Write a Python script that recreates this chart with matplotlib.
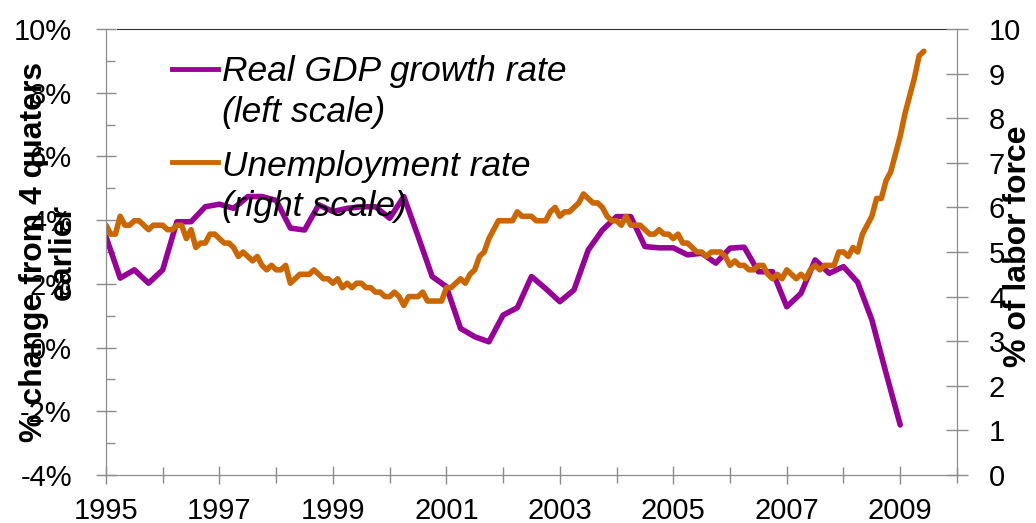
import numpy as np
import matplotlib
matplotlib.use("Agg")
import matplotlib.pyplot as plt
from matplotlib.ticker import FixedLocator, FuncFormatter

# colours and fonts
g_purple = "#990099"
g_orange = "#CC6600"
g_gray = "#8C8C8C"
plt.rcParams['font.family'] = ['Liberation Sans', 'DejaVu Sans']

# real GDP growth, % change from 4 quarters earlier, 1995Q1 .. 2009Q1
gdp_start = 1995.0
gdp_growth = [3.48, 2.18, 2.44, 2.02, 2.44, 3.95, 3.95, 4.42,
              4.50, 4.37, 4.74, 4.74, 4.62, 3.75, 3.69, 4.48,
              4.27, 4.37, 4.42, 4.42, 4.06, 4.74, 3.50, 2.23,
              1.91, 0.60, 0.34, 0.18, 1.02, 1.25, 2.23, 1.85,
              1.44, 1.81, 3.06, 3.69, 4.11, 4.11, 3.17, 3.13,
              3.13, 2.91, 2.96, 2.65, 3.12, 3.15, 2.38, 2.38,
              1.28, 1.70, 2.75, 2.33, 2.54, 2.05, 0.87, -0.80,
              -2.43]

# unemployment rate, % of labor force, monthly Jan 1995 .. Jun 2009
unemp_start = 1995.0
unemployment = [
    5.6, 5.4, 5.4, 5.8, 5.6, 5.6, 5.7, 5.7, 5.6, 5.5, 5.6, 5.6,   # 1995
    5.6, 5.5, 5.5, 5.6, 5.6, 5.3, 5.5, 5.1, 5.2, 5.2, 5.4, 5.4,   # 1996
    5.3, 5.2, 5.2, 5.1, 4.9, 5.0, 4.9, 4.8, 4.9, 4.7, 4.6, 4.7,   # 1997
    4.6, 4.6, 4.7, 4.3, 4.4, 4.5, 4.5, 4.5, 4.6, 4.5, 4.4, 4.4,   # 1998
    4.3, 4.4, 4.2, 4.3, 4.2, 4.3, 4.3, 4.2, 4.2, 4.1, 4.1, 4.0,   # 1999
    4.0, 4.1, 4.0, 3.8, 4.0, 4.0, 4.0, 4.1, 3.9, 3.9, 3.9, 3.9,   # 2000
    4.2, 4.2, 4.3, 4.4, 4.3, 4.5, 4.6, 4.9, 5.0, 5.3, 5.5, 5.7,   # 2001
    5.7, 5.7, 5.7, 5.9, 5.8, 5.8, 5.8, 5.7, 5.7, 5.7, 5.9, 6.0,   # 2002
    5.8, 5.9, 5.9, 6.0, 6.1, 6.3, 6.2, 6.1, 6.1, 6.0, 5.8, 5.7,   # 2003
    5.7, 5.6, 5.8, 5.6, 5.6, 5.6, 5.5, 5.4, 5.4, 5.5, 5.4, 5.4,   # 2004
    5.3, 5.4, 5.2, 5.2, 5.1, 5.0, 5.0, 4.9, 5.0, 5.0, 5.0, 4.9,   # 2005
    4.7, 4.8, 4.7, 4.7, 4.6, 4.6, 4.7, 4.7, 4.5, 4.4, 4.5, 4.4,   # 2006
    4.6, 4.5, 4.4, 4.5, 4.4, 4.6, 4.7, 4.6, 4.7, 4.7, 4.7, 5.0,   # 2007
    5.0, 4.9, 5.1, 5.0, 5.4, 5.6, 5.8, 6.2, 6.2, 6.6, 6.8, 7.2,   # 2008
    7.6, 8.1, 8.5, 8.9, 9.4, 9.5]                                 # 2009

year_labels = [1995, 1997, 1999, 2001, 2003, 2005, 2007, 2009]
left_ticks = [-4, -2, 0, 2, 4, 6, 8, 10]
right_ticks = list(range(0, 11))

legend_gdp = "Real GDP growth rate\n(left scale)"
legend_unemp = "Unemployment rate\n(right scale)"
left_label = "% change from 4 quaters\nearlier"
right_label = "% of labor force"


def style_axes(ax, ax2):
    for s in ["left", "bottom", "right"]:
        ax.spines[s].set_color(g_gray)
        ax2.spines[s].set_color(g_gray)
    ax.spines["top"].set_color("#333333")
    ax2.spines["top"].set_visible(False)
    ax.spines["top"].set_bounds(1995.2, 2009.8)

    ax.set_xlim(1995, 2010)
    ax.set_ylim(-4, 10)
    ax2.set_ylim(0, 10)

    ax.xaxis.set_major_locator(FixedLocator(year_labels))
    ax.xaxis.set_minor_locator(FixedLocator([y + 1 for y in year_labels]))
    ax.tick_params(axis="x", which="major", direction="inout", length=13,
                   width=1, color=g_gray, labelsize=21, pad=9)
    ax.tick_params(axis="x", which="minor", direction="inout", length=11,
                   width=1, color=g_gray)

    ax.yaxis.set_major_locator(FixedLocator(left_ticks))
    ax.yaxis.set_minor_locator(FixedLocator([t + 1 for t in left_ticks[:-1]]))
    ax.yaxis.set_major_formatter(FuncFormatter(lambda v, p: "%d%%" % v))
    ax.tick_params(axis="y", which="major", direction="inout", length=15,
                   width=1, color=g_gray, labelsize=21, pad=17)
    ax.tick_params(axis="y", which="minor", direction="in", length=6.5,
                   width=1, color=g_gray)

    ax2.yaxis.set_major_locator(FixedLocator(right_ticks))
    ax2.tick_params(axis="y", which="major", direction="inout", length=16,
                    width=1, color=g_gray, labelsize=21, pad=15)


def main():
    fig = plt.figure(figsize=(10.36, 5.23), dpi=100)
    ax = fig.add_axes([0.1023, 0.0918, 0.8214, 0.8528])
    ax2 = ax.twinx()

    q_years = gdp_start + np.arange(len(gdp_growth)) / 4.0
    m_years = unemp_start + np.arange(len(unemployment)) / 12.0

    ax.plot(q_years, gdp_growth, color=g_purple, lw=4, solid_capstyle="round",
            solid_joinstyle="round")
    ax2.plot(m_years, unemployment, color=g_orange, lw=4, solid_capstyle="round",
             solid_joinstyle="round")

    style_axes(ax, ax2)

    # legend drawn by hand so the swatch sits on the first text line
    ax2.plot([0.0776, 0.1316], [0.910, 0.910], transform=ax.transAxes,
             color=g_purple, lw=3.5)
    ax2.plot([0.0776, 0.1316], [0.702, 0.702], transform=ax.transAxes,
             color=g_orange, lw=3.5)
    ax2.text(0.1363, 0.859, legend_gdp, transform=ax.transAxes, fontsize=25.5,
             style="italic", va="center", ha="left", linespacing=1.3)
    ax2.text(0.1363, 0.647, legend_unemp, transform=ax.transAxes, fontsize=25.5,
             style="italic", va="center", ha="left", linespacing=1.3)

    # axis titles overlap the tick labels, like the original
    fig.text(0.047, 0.518, left_label, rotation=90, fontsize=23,
             fontweight="bold", ha="center", va="center", linespacing=0.95)
    fig.text(0.983, 0.53, right_label, rotation=90, fontsize=23,
             fontweight="bold", ha="center", va="center")

    fig.savefig("out.png", dpi=100)


if __name__ == "__main__":
    main()
